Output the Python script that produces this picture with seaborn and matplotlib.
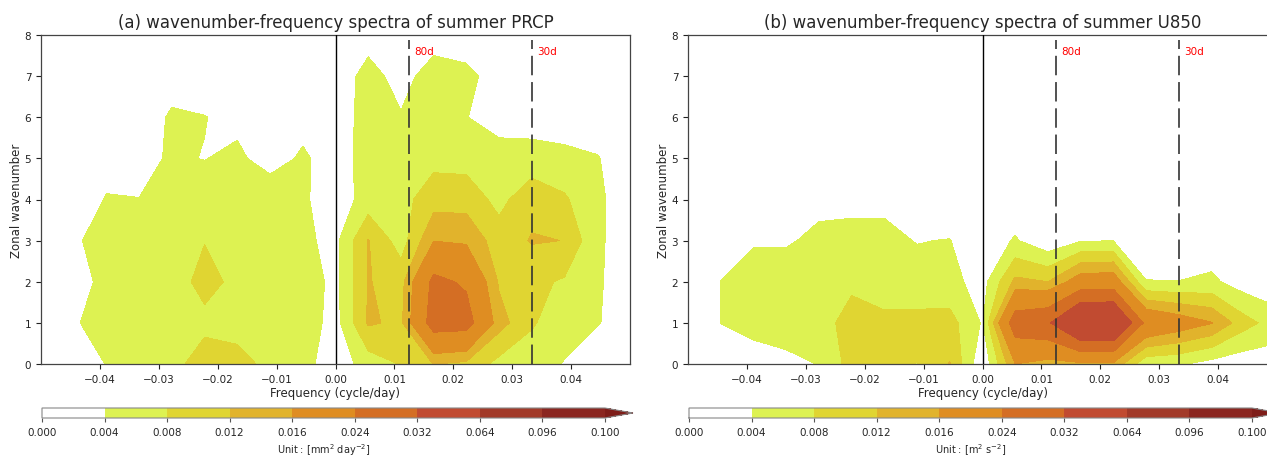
import numpy as np
import matplotlib
matplotlib.use("Agg")
import matplotlib.pyplot as plt
import seaborn as sns

# ---------------- data ----------------
# frequency index k -> frequency k/180 cycle/day
freq_index = list(range(-9, 10))
wavenumbers = [0, 1, 2, 3, 4, 5, 6, 7, 8]

# spectral power (x 1e-3), one list per frequency column (wavenumber 0..8)
prcp_cols = [
    [2.5, 3.0, 3.2, 3.0, 2.5, 2.0, 1.5, 1.0, 0.8],    # k=-9
    [2.0, 3.5, 2.5, 3.45, 2.0, 1.8, 1.5, 1.0, 0.8],   # k=-8
    [4.1, 6.0, 5.0, 5.5, 4.2, 2.8, 2.0, 1.5, 1.0],    # k=-7
    [5.0, 6.0, 6.0, 6.0, 4.05, 3.0, 1.5, 1.5, 1.0],   # k=-6
    [7.0, 6.0, 6.56, 6.0, 5.5, 4.4, 4.6, 2.1, 1.0],   # k=-5
    [9.5, 7.2, 9.0, 7.9, 6.0, 3.9, 4.1, 2.0, 1.0],    # k=-4
    [9.0, 6.9, 7.25, 6.5, 5.5, 4.8, 3.0, 1.5, 1.0],   # k=-3
    [7.25, 6.5, 6.0, 6.0, 6.9, 2.2, 1.5, 1.0, 0.8],   # k=-2
    [5.5, 6.2, 6.0, 4.7, 4.6, 4.6, 2.6, 1.5, 1.0],    # k=-1
    [1.5, 2.5, 3.0, 3.0, 1.8, 2.2, 2.0, 1.5, 1.0],    # k=0
    [5.9, 12.5, 12.2, 12.2, 5.6, 5.5, 5.5, 5.5, 2.3], # k=1
    [8.2, 11.2, 10.5, 6.0, 6.6, 5.5, 4.3, 2.5, 1.5],  # k=2
    [12.1, 27.5, 25.8, 15.9, 10.25, 6.8, 6.0, 5.9, 2.1],  # k=3
    [11.0, 27.0, 23.0, 15.3, 10.3, 6.5, 4.1, 5.0, 1.8],   # k=4
    [6.7, 13.6, 11.5, 9.8, 6.8, 5.5, 2.5, 2.3, 1.5],  # k=5
    [5.5, 8.5, 9.0, 12.3, 10.7, 5.5, 2.3, 1.8, 1.2],  # k=6
    [3.83, 5.25, 7.5, 11.95, 8.57, 5.0, 2.0, 1.5, 1.0],   # k=7
    [1.8, 4.19, 4.35, 4.47, 4.53, 4.2, 2.0, 1.2, 0.8],    # k=8
    [1.5, 2.5, 2.5, 2.5, 2.5, 2.0, 1.5, 1.0, 0.8],    # k=9
]

u850_cols = [
    [1.0, 1.0, 1.0, 0.8, 0.6, 0.5, 0.5, 0.5, 0.5],    # k=-9
    [2.0, 4.05, 4.05, 2.5, 1.5, 1.0, 0.8, 0.6, 0.5],  # k=-8
    [2.6, 5.0, 5.0, 3.8, 2.0, 1.0, 0.8, 0.6, 0.5],    # k=-7
    [3.2, 5.5, 5.5, 3.7, 2.5, 1.2, 0.8, 0.6, 0.5],    # k=-6
    [4.1, 5.9, 5.5, 4.6, 3.3, 1.5, 1.0, 0.6, 0.5],    # k=-5
    [9.6, 10.0, 7.0, 4.6, 3.5, 1.5, 1.0, 0.6, 0.5],   # k=-4
    [9.0, 9.5, 4.7, 4.6, 3.5, 1.5, 1.0, 0.6, 0.5],    # k=-3
    [7.9, 9.5, 5.0, 3.9, 1.5, 1.0, 0.8, 0.6, 0.5],    # k=-2
    [12.2, 9.5, 5.2, 4.1, 2.0, 1.0, 0.8, 0.6, 0.5],   # k=-1
    [0.7, 3.6, 2.4, 1.5, 1.0, 0.8, 0.6, 0.5, 0.5],    # k=0
    [16.0, 28.5, 13.0, 4.4, 1.5, 1.0, 0.8, 0.6, 0.5], # k=1
    [14.0, 31.0, 12.0, 1.0, 0.8, 0.6, 0.5, 0.5, 0.5], # k=2
    [15.0, 45.0, 19.0, 3.8, 1.0, 0.8, 0.6, 0.5, 0.5], # k=3
    [15.0, 45.0, 19.5, 3.9, 1.0, 0.8, 0.6, 0.5, 0.5], # k=4
    [5.0, 22.0, 4.1, 2.0, 1.0, 0.8, 0.6, 0.5, 0.5],   # k=5
    [4.5, 19.0, 4.05, 2.0, 1.0, 0.8, 0.6, 0.5, 0.5],  # k=6
    [2.5, 16.2, 4.8, 1.5, 1.0, 0.8, 0.6, 0.5, 0.5],   # k=7
    [1.5, 9.5, 1.94, 1.0, 0.8, 0.6, 0.5, 0.5, 0.5],   # k=8
    [2.0, 6.0, 1.0, 0.8, 0.6, 0.5, 0.5, 0.5, 0.5],    # k=9
]

levels = [0.0, 0.004, 0.008, 0.012, 0.016, 0.024, 0.032, 0.064, 0.096, 0.100]
band_colors = ['#ffffff', '#ddf252', '#e0d532', '#e1b32c', '#df8d22',
               '#d46e24', '#c14b31', '#a23a29', '#8b2620', '#7e1d19']
period_days = [80, 30]
titles = ['(a) wavenumber-frequency spectra of summer PRCP',
          '(b) wavenumber-frequency spectra of summer U850']
units = [r'Unit : [mm$^2$ day$^{-2}$]', r'Unit : [m$^2$ s$^{-2}$]']
xticks = [-0.04, -0.03, -0.02, -0.01, 0.0, 0.01, 0.02, 0.03, 0.04]

# ---------------- plot ----------------
sns.set_style("ticks")
plt.rcParams['font.family'] = ['DejaVu Sans']

W, H = 1267, 456
fig = plt.figure(figsize=(W / 100, H / 100), dpi=100)

freq = np.array(freq_index) / 180.0
panels = [np.array(prcp_cols).T * 1e-3, np.array(u850_cols).T * 1e-3]
ax_lefts = [41, 688]

for i, Z in enumerate(panels):
    L = ax_lefts[i]
    ax = fig.add_axes([L / W, 1 - 365 / H, 589 / W, 329 / H])
    cs = ax.contourf(freq, wavenumbers, Z, levels=levels, colors=band_colors,
                     extend='max')
    ax.axvline(0, color='black', lw=1.0, zorder=3)
    for p in period_days:
        ax.plot([1.0 / p, 1.0 / p], [0, 7.88], color='#333333', lw=1.4,
                ls=(0, (10, 3.5)), alpha=0.85, zorder=3)
        ax.text(1.0 / p + 0.0009, 7.62, f'{p}d', color='red', fontsize=7.5,
                ha='left', va='center', zorder=4)
    ax.set_xlim(-0.05, 0.05)
    ax.set_ylim(0, 8)
    ax.set_xticks(xticks)
    ax.set_yticks(wavenumbers)
    ax.tick_params(labelsize=7.5, length=3.5, width=0.8, colors='#222222')
    for s in ax.spines.values():
        s.set_color('#444444')
        s.set_linewidth(0.9)
    ax.set_title(titles[i], fontsize=12, pad=6)
    ax.set_xlabel('Frequency (cycle/day)', fontsize=8.5, labelpad=2)
    ax.set_ylabel('Zonal wavenumber', fontsize=8.5, labelpad=1)

    cax = fig.add_axes([(L + 1) / W, 1 - 419 / H, 591 / W, 10 / H])
    cb = fig.colorbar(cs, cax=cax, orientation='horizontal', ticks=levels,
                      format='%.3f')
    cb.outline.set_edgecolor('#888888')
    cb.outline.set_linewidth(0.8)
    cb.ax.tick_params(labelsize=7.5, length=3, width=0.8, color='#555555')
    cb.set_label(units[i], fontsize=7, labelpad=3)

fig.savefig('out.png', dpi=100)
